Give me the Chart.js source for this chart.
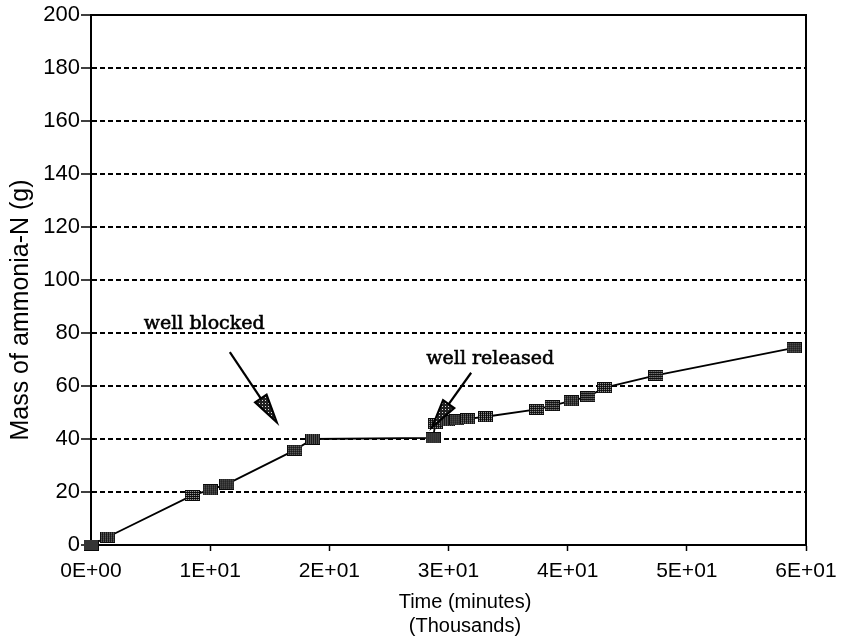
<!DOCTYPE html>
<html><head><meta charset="utf-8">
<script src="https://cdn.jsdelivr.net/npm/chart.js@4.4.1/dist/chart.umd.min.js"></script>
<style>html,body{margin:0;padding:0;background:#fff}#wrap{width:845px;height:640px}</style>
</head><body><div id="wrap"><canvas id="c" width="845" height="640"></canvas></div>
<script>
// ---- data ----
const timeThousands = [0, 1.4, 8.5, 10.0, 11.4, 17.1, 18.6, 28.7, 28.9, 29.9, 30.7, 31.6, 33.1, 37.4, 38.7, 40.3, 41.7, 43.1, 47.4, 59.0];
const massAmmoniaN  = [0, 3, 18.7, 20.8, 23, 35.8, 40, 40.4, 45.8, 46.8, 47.2, 47.6, 48.4, 51.2, 52.6, 54.4, 56, 59.4, 64, 74.4];
const xTickValues = [0, 10, 20, 30, 40, 50, 60];
const xTickLabels = ['0E+00', '1E+01', '2E+01', '3E+01', '4E+01', '5E+01', '6E+01'];
const yTickValues = [0, 20, 40, 60, 80, 100, 120, 140, 160, 180, 200];
const yTickLabels = ['0', '20', '40', '60', '80', '100', '120', '140', '160', '180', '200'];
const xTitleLines = ['Time (minutes)', '(Thousands)'];
const yTitle = 'Mass of ammonia-N (g)';
const noteTexts = ['well blocked', 'well released'];

// ---- styling helpers ----
function makeMarker(){
  const w = 15, h = 11;
  const c = document.createElement('canvas'); c.width = w; c.height = h;
  const g = c.getContext('2d');
  g.fillStyle = '#0a0a0a'; g.fillRect(0, 0, w, h);
  g.fillStyle = '#b8b8b8';
  for (let y = 1; y < h - 1; y++) for (let x = 1; x < w - 1; x++)
    if ((x + y) % 2 === 0 && y % 2 === 1) g.fillRect(x, y, 1, 1);
  return c;
}
function makePattern(ctx){
  const c = document.createElement('canvas'); c.width = 3; c.height = 3;
  const g = c.getContext('2d');
  g.fillStyle = '#222'; g.fillRect(0, 0, 3, 3);
  g.fillStyle = '#ddd'; g.fillRect(1, 1, 1, 1);
  return ctx.createPattern(c, 'repeat');
}

// annotation placement (data units)
const notes = [
  { text: noteTexts[0], tx: 9.5, ty: 83.3, tail: [11.65, 72.8], tip: [15.6, 46.2] },
  { text: noteTexts[1], tx: 33.5, ty: 70.2, tail: [31.9, 65.0], tip: [28.6, 44.3] }
];

const decor = {
  id: 'decor',
  beforeDatasetsDraw(chart){
    const { ctx, chartArea: a } = chart;
    ctx.save();
    ctx.setLineDash([]);
    ctx.strokeStyle = '#000'; ctx.lineWidth = 2;
    ctx.strokeRect(a.left, a.top, a.right - a.left, a.bottom - a.top);
    ctx.restore();
  },
  afterDatasetsDraw(chart){
    const { ctx, scales: { x, y } } = chart;
    ctx.save();
    ctx.setLineDash([]);
    // titles
    ctx.fillStyle = '#000';
    ctx.font = '20px "Liberation Sans", Arial, sans-serif';
    ctx.textAlign = 'center'; ctx.textBaseline = 'middle';
    ctx.fillText(xTitleLines[0], 465, 602);
    ctx.fillText(xTitleLines[1], 465, 626);
    ctx.save();
    ctx.translate(21, 310); ctx.rotate(-Math.PI / 2);
    ctx.font = '25px "Liberation Sans", Arial, sans-serif';
    ctx.fillText(yTitle, 0, 0);
    ctx.restore();
    // annotations
    const pat = makePattern(ctx);
    notes.forEach(n => {
      ctx.font = '19px "DejaVu Serif", serif';
      ctx.fillStyle = '#000'; ctx.strokeStyle = '#000'; ctx.lineWidth = 0.6;
      ctx.textAlign = 'center'; ctx.textBaseline = 'middle';
      const px = x.getPixelForValue(n.tx), py = y.getPixelForValue(n.ty);
      ctx.fillText(n.text, px, py);
      ctx.strokeText(n.text, px, py);
      const x0 = x.getPixelForValue(n.tail[0]), y0 = y.getPixelForValue(n.tail[1]);
      const x1 = x.getPixelForValue(n.tip[0]), y1 = y.getPixelForValue(n.tip[1]);
      const dx = x1 - x0, dy = y1 - y0, L = Math.hypot(dx, dy);
      const ux = dx / L, uy = dy / L, hl = 29, hw = 7;
      const bx = x1 - ux * hl, by = y1 - uy * hl;
      ctx.lineWidth = 2.2;
      ctx.beginPath(); ctx.moveTo(x0, y0); ctx.lineTo(bx, by); ctx.stroke();
      ctx.beginPath();
      ctx.moveTo(x1, y1);
      ctx.lineTo(bx - uy * hw, by + ux * hw);
      ctx.lineTo(bx + uy * hw, by - ux * hw);
      ctx.closePath();
      ctx.fillStyle = pat; ctx.fill();
      ctx.lineWidth = 2; ctx.stroke();
    });
    ctx.restore();
  }
};

const marker = makeMarker();
new Chart(document.getElementById('c'), {
  type: 'line',
  data: {
    datasets: [{
      data: timeThousands.map((t, i) => ({ x: t, y: massAmmoniaN[i] })),
      borderColor: '#000', borderWidth: 1.8, tension: 0,
      pointStyle: marker, pointRadius: 7, pointHoverRadius: 7,
      clip: false
    }]
  },
  options: {
    responsive: false, animation: false, devicePixelRatio: 1,
    layout: { padding: { top: 15, right: 39, left: 0, bottom: 0 } },
    plugins: { legend: { display: false }, tooltip: { enabled: false } },
    scales: {
      x: {
        type: 'linear', min: 0, max: 60,
        afterBuildTicks: s => { s.ticks = xTickValues.map(v => ({ value: v })); },
        afterFit: s => { s.height = 95; },
        ticks: {
          callback: v => { const i = xTickValues.indexOf(v); return i >= 0 ? xTickLabels[i] : ''; },
          color: '#000', font: { family: '"Liberation Sans", Arial, sans-serif', size: 21 },
          maxRotation: 0, autoSkip: false, padding: 8
        },
        grid: { drawOnChartArea: false, drawTicks: true, tickLength: 6, tickColor: '#000', tickWidth: 1.5, tickBorderDash: [] },
        border: { display: true, color: '#000', width: 2 }
      },
      y: {
        type: 'linear', min: 0, max: 200,
        afterBuildTicks: s => { s.ticks = yTickValues.map(v => ({ value: v })); },
        afterFit: s => { s.width = 91; },
        ticks: {
          callback: v => { const i = yTickValues.indexOf(v); return i >= 0 ? yTickLabels[i] : ''; },
          color: '#000', font: { family: '"Liberation Sans", Arial, sans-serif', size: 22 },
          padding: 1, autoSkip: false
        },
        grid: { color: '#000', lineWidth: 2, tickBorderDash: [], tickLength: 10, tickColor: '#000', tickWidth: 1.5 },
        border: { display: true, color: '#000', width: 2, dash: [5, 3] }
      }
    }
  },
  plugins: [decor]
});
</script>
</body></html>
